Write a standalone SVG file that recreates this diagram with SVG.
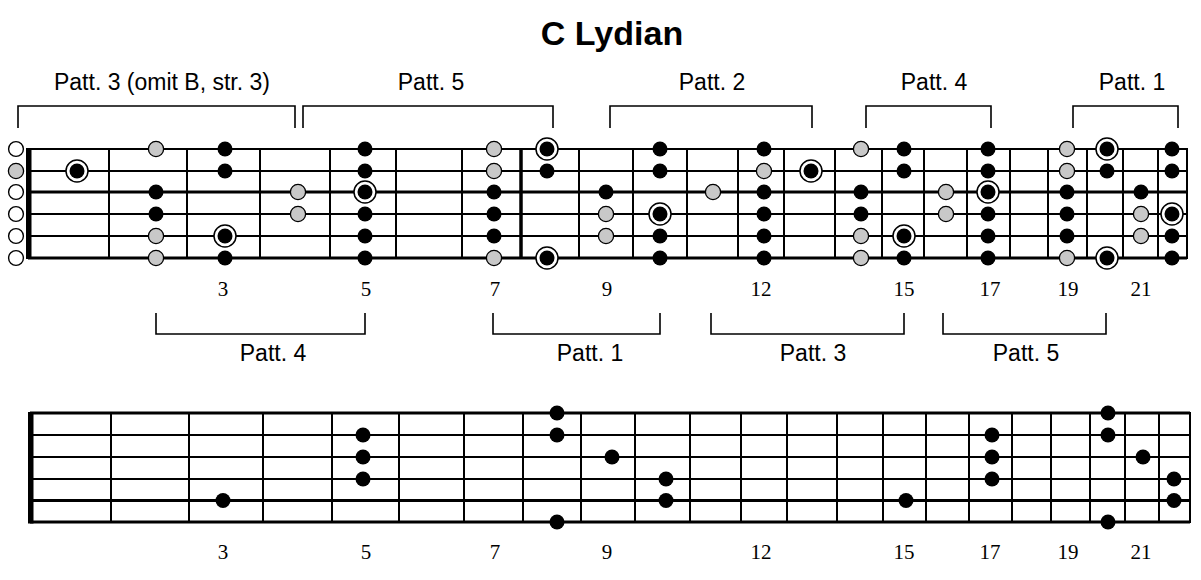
<svg xmlns="http://www.w3.org/2000/svg" xmlns:xlink="http://www.w3.org/1999/xlink" width="1201" height="580" viewBox="0 0 1201 580">
<style>
.str{stroke:#000;stroke-width:2;fill:none}
.strk{stroke:#000;stroke-width:3;fill:none}
.fret{stroke:#000;stroke-width:2;fill:none}
.fretk{stroke:#000;stroke-width:3.5;fill:none}
.br{stroke:#000;stroke-width:1.6;fill:none}
.lab{font-family:"Liberation Sans",Arial,sans-serif;font-size:23px;fill:#000;text-anchor:middle}
.num{font-family:"Liberation Serif","Times New Roman",serif;font-size:21px;fill:#000;text-anchor:middle}
.title{font-family:"Liberation Sans",Arial,sans-serif;font-size:34px;font-weight:bold;fill:#000;text-anchor:middle}
</style>
<defs>
<circle id="b" r="7.5" fill="#000"/>
<circle id="g" r="7.6" fill="#c8c8c8" stroke="#000" stroke-width="1.3"/>
<circle id="o" r="7.4" fill="#fff" stroke="#000" stroke-width="1.4"/>
<g id="r"><circle r="11" fill="#fff" stroke="#000" stroke-width="1.5"/><circle r="7.5" fill="#000"/></g>
</defs>
<rect width="1201" height="580" fill="#fff"/>
<text id="title" class="title" x="612" y="45">C Lydian</text>

<g id="top-labels">
<text class="lab" x="162" y="90">Patt. 3 (omit B, str. 3)</text>
<text class="lab" x="431" y="90">Patt. 5</text>
<text class="lab" x="712" y="90">Patt. 2</text>
<text class="lab" x="934" y="90">Patt. 4</text>
<text class="lab" x="1132" y="90">Patt. 1</text>
</g>
<g id="top-brackets">
<path class="br" d="M18,128V106H295V128"/>
<path class="br" d="M303,128V106H553V128"/>
<path class="br" d="M610,128V106H812V128"/>
<path class="br" d="M866,128V106H991V128"/>
<path class="br" d="M1073,128V106H1178V128"/>
</g>

<g id="top-board">
<g id="top-strings">
<line class="str" x1="28" y1="149" x2="1187" y2="149"/>
<line class="str" x1="28" y1="171" x2="1187" y2="171"/>
<line class="strk" x1="28" y1="192" x2="1187" y2="192"/>
<line class="str" x1="28" y1="214" x2="1187" y2="214"/>
<line class="str" x1="28" y1="236" x2="1187" y2="236"/>
<line class="strk" x1="28" y1="258" x2="1187" y2="258"/>
</g>
<g id="top-frets">
<path class="fret" d="M109,149V258M187,149V258M260,149V258M330,149V258M396,149V258M462,149V258M579,149V258M633,149V258M687,149V258M738,149V258M784,149V258M835,149V258M882,149V258M924,149V258M967,149V258M1010,149V258M1048,149V258M1087,149V258M1123,149V258M1158,149V258M1187,148V259"/>
<path class="fretk" d="M521,149V258"/>
<rect x="26" y="148" width="5.5" height="111" fill="#000"/>
</g>
<g id="top-open">
<use href="#o" x="16" y="149"/><use href="#g" x="16" y="171"/><use href="#o" x="16" y="192"/>
<use href="#o" x="16" y="214"/><use href="#o" x="16" y="236"/><use href="#o" x="16" y="258"/>
</g>
<g id="top-dots">
<use href="#r" x="77" y="171"/>
<use href="#g" x="156" y="149"/><use href="#b" x="156" y="192"/><use href="#b" x="156" y="214"/><use href="#g" x="156" y="236"/><use href="#g" x="156" y="258"/>
<use href="#b" x="225" y="149"/><use href="#b" x="225" y="171"/><use href="#r" x="225" y="236"/><use href="#b" x="225" y="258"/>
<use href="#g" x="298" y="192"/><use href="#g" x="298" y="214"/>
<use href="#b" x="365" y="149"/><use href="#b" x="365" y="171"/><use href="#r" x="365" y="192"/><use href="#b" x="365" y="214"/><use href="#b" x="365" y="236"/><use href="#b" x="365" y="258"/>
<use href="#g" x="494" y="149"/><use href="#g" x="494" y="171"/><use href="#b" x="494" y="192"/><use href="#b" x="494" y="214"/><use href="#b" x="494" y="236"/><use href="#g" x="494" y="258"/>
<use href="#r" x="547" y="149"/><use href="#b" x="547" y="171"/><use href="#r" x="547" y="258"/>
<use href="#b" x="606" y="192"/><use href="#g" x="606" y="214"/><use href="#g" x="606" y="236"/>
<use href="#b" x="660" y="149"/><use href="#b" x="660" y="171"/><use href="#r" x="660" y="214"/><use href="#b" x="660" y="236"/><use href="#b" x="660" y="258"/>
<use href="#g" x="713" y="192"/>
<use href="#b" x="764" y="149"/><use href="#g" x="764" y="171"/><use href="#b" x="764" y="192"/><use href="#b" x="764" y="214"/><use href="#b" x="764" y="236"/><use href="#b" x="764" y="258"/>
<use href="#r" x="811" y="171"/>
<use href="#g" x="861" y="149"/><use href="#b" x="861" y="192"/><use href="#b" x="861" y="214"/><use href="#g" x="861" y="236"/><use href="#g" x="861" y="258"/>
<use href="#b" x="904" y="149"/><use href="#b" x="904" y="171"/><use href="#r" x="904" y="236"/><use href="#b" x="904" y="258"/>
<use href="#g" x="946" y="192"/><use href="#g" x="946" y="214"/>
<use href="#b" x="988" y="149"/><use href="#b" x="988" y="171"/><use href="#r" x="988" y="192"/><use href="#b" x="988" y="214"/><use href="#b" x="988" y="236"/><use href="#b" x="988" y="258"/>
<use href="#g" x="1067" y="149"/><use href="#g" x="1067" y="171"/><use href="#b" x="1067" y="192"/><use href="#b" x="1067" y="214"/><use href="#b" x="1067" y="236"/><use href="#g" x="1067" y="258"/>
<use href="#r" x="1107" y="149"/><use href="#b" x="1107" y="171"/><use href="#r" x="1107" y="258"/>
<use href="#b" x="1141" y="192"/><use href="#g" x="1141" y="214"/><use href="#g" x="1141" y="236"/>
<use href="#b" x="1172" y="149"/><use href="#b" x="1172" y="171"/><use href="#r" x="1172" y="214"/><use href="#b" x="1172" y="236"/><use href="#b" x="1172" y="258"/>
</g>
</g>

<g id="top-numbers">
<text class="num" x="223" y="296">3</text>
<text class="num" x="366" y="296">5</text>
<text class="num" x="495" y="296">7</text>
<text class="num" x="607" y="296">9</text>
<text class="num" x="761" y="296">12</text>
<text class="num" x="904" y="296">15</text>
<text class="num" x="990" y="296">17</text>
<text class="num" x="1068" y="296">19</text>
<text class="num" x="1141" y="296">21</text>
</g>

<g id="bottom-brackets">
<path class="br" d="M156,313V334H365V313"/>
<path class="br" d="M493,313V334H660V313"/>
<path class="br" d="M711,313V334H904V313"/>
<path class="br" d="M943,313V334H1106V313"/>
</g>
<g id="bottom-labels">
<text class="lab" x="273" y="361">Patt. 4</text>
<text class="lab" x="590" y="361">Patt. 1</text>
<text class="lab" x="813" y="361">Patt. 3</text>
<text class="lab" x="1026" y="361">Patt. 5</text>
</g>

<g id="bottom-board">
<g id="bottom-strings">
<line class="strk" x1="30" y1="413" x2="1190" y2="413"/>
<line class="str" x1="30" y1="435" x2="1190" y2="435"/>
<line class="str" x1="30" y1="457" x2="1190" y2="457"/>
<line class="str" x1="30" y1="479" x2="1190" y2="479"/>
<line class="strk" x1="30" y1="500.5" x2="1190" y2="500.5"/>
<line class="strk" x1="30" y1="522" x2="1190" y2="522"/>
</g>
<g id="bottom-frets">
<path class="fret" d="M111,413V522M189,413V522M263,413V522M332,413V522M399,413V522M464,413V522M523,413V522M581,413V522M635,413V522M690,413V522M741,413V522M787,413V522M837,413V522M883,413V522M926,413V522M969,413V522M1012,413V522M1051,413V522M1090,413V522M1125,413V522M1159,413V522M1190,412V523"/>
<rect x="28" y="412" width="5.5" height="111.5" fill="#000"/>
</g>
<g id="bottom-dots">
<use href="#b" x="223" y="500.5"/>
<use href="#b" x="363" y="435"/><use href="#b" x="363" y="457"/><use href="#b" x="363" y="479"/>
<use href="#b" x="557" y="413"/><use href="#b" x="557" y="435"/><use href="#b" x="557" y="522"/>
<use href="#b" x="612" y="457"/>
<use href="#b" x="666" y="479"/><use href="#b" x="666" y="500.5"/>
<use href="#b" x="906" y="500.5"/>
<use href="#b" x="992" y="435"/><use href="#b" x="992" y="457"/><use href="#b" x="992" y="479"/>
<use href="#b" x="1108" y="413"/><use href="#b" x="1108" y="435"/><use href="#b" x="1108" y="522"/>
<use href="#b" x="1143" y="457"/>
<use href="#b" x="1174" y="479"/><use href="#b" x="1174" y="500.5"/>
</g>
</g>

<g id="bottom-numbers">
<text class="num" x="223" y="559">3</text>
<text class="num" x="366" y="559">5</text>
<text class="num" x="495" y="559">7</text>
<text class="num" x="607" y="559">9</text>
<text class="num" x="761" y="559">12</text>
<text class="num" x="904" y="559">15</text>
<text class="num" x="990" y="559">17</text>
<text class="num" x="1068" y="559">19</text>
<text class="num" x="1141" y="559">21</text>
</g>
</svg>
